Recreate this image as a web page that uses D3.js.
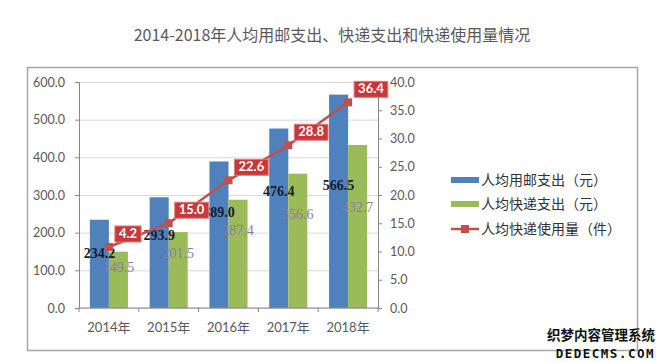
<!DOCTYPE html>
<html>
<head>
<meta charset="utf-8">
<script src="https://cdn.jsdelivr.net/npm/d3@7.9.0/dist/d3.min.js"></script>
<style>
  html, body { margin: 0; padding: 0; background: #fff; }
  svg { display: block; }
</style>
</head>
<body>
<div id="chart"></div>
<script>
// ── Data ─────────────────────────────────────────────────────────────────────
const years = ['2014年', '2015年', '2016年', '2017年', '2018年'];
const postSpend = [234.2, 293.9, 389.0, 476.4, 566.5];     // 人均用邮支出（元）
const expressSpend = [149.5, 201.5, 287.4, 356.6, 432.7];  // 人均快递支出（元）
const expressUse = [4.2, 15.0, 22.6, 28.8, 36.4];          // 人均快递使用量（件）
// the source draws its 2014 point higher than the 4.2 it is labelled with
const expressUsePlotted = [10.8, 15.0, 22.6, 28.8, 36.4];
const leftTicks = [0, 100, 200, 300, 400, 500, 600];
const rightTicks = [0, 5, 10, 15, 20, 25, 30, 35, 40];
const seriesNames = ['人均用邮支出（元）', '人均快递支出（元）', '人均快递使用量（件）'];

// label levels (in left-axis units) where the source placed the bar value labels
const postLabelAt = [146, 194, 255, 310, 327];
const expressLabelAt = [109, 146, 207, 248, 268];

// ── Layout ───────────────────────────────────────────────────────────────────
const width = 660, height = 363;
const plot = { left: 79, right: 378, top: 82, bottom: 308 };
const colors = { post: '#4f81bd', express: '#9bbb59', line: '#c0504d' };
const sans = 'Lato, "Noto Sans CJK SC", sans-serif';
const cjk = '"Noto Sans CJK SC", sans-serif';
const serif = '"Liberation Serif", "Times New Roman", serif';

const svg = d3.select('#chart').append('svg')
  .attr('width', width).attr('height', height);

// title
svg.append('text')
  .attr('x', 332).attr('y', 41)
  .attr('text-anchor', 'middle')
  .style('font-family', cjk).style('font-size', '16px').attr('fill', '#595959')
  .text('2014-2018年人均用邮支出、快递支出和快递使用量情况');

// chart frame
svg.append('rect')
  .attr('x', 27.5).attr('y', 67.5).attr('width', 610).attr('height', 283)
  .attr('fill', 'none').attr('stroke', '#a6a6a6').attr('stroke-width', 1.5);

// ── Scales ───────────────────────────────────────────────────────────────────
const x = d3.scaleBand().domain(years).range([plot.left, plot.right]);
const xSub = d3.scaleBand().domain(['post', 'express'])
  .range([0, x.bandwidth()]).paddingOuter(0.57);
const yL = d3.scaleLinear().domain([0, 600]).range([plot.bottom, plot.top]);
const yR = d3.scaleLinear().domain([0, 40]).range([plot.bottom, plot.top]);

// gridlines
svg.append('g')
  .attr('transform', `translate(${plot.left},0)`)
  .call(d3.axisLeft(yL).tickValues(leftTicks).tickFormat('').tickSize(-(plot.right - plot.left)))
  .call((g) => g.select('.domain').remove())
  .call((g) => g.selectAll('line').attr('stroke', '#d9d9d9'));

// left axis
svg.append('g')
  .attr('transform', `translate(${plot.left},0)`)
  .call(d3.axisLeft(yL).tickValues(leftTicks).tickFormat(d3.format('.1f')).tickSize(4).tickPadding(10))
  .call((g) => g.selectAll('line, path').attr('stroke', '#868686'))
  .call((g) => g.selectAll('text').style('font-family', sans).style('font-size', '12.5px').attr('fill', '#595959'));

// right axis
svg.append('g')
  .attr('transform', `translate(${plot.right},0)`)
  .call(d3.axisRight(yR).tickValues(rightTicks).tickFormat(d3.format('.1f')).tickSize(4).tickPadding(8))
  .call((g) => g.selectAll('line, path').attr('stroke', '#868686'))
  .call((g) => g.selectAll('text').style('font-family', sans).style('font-size', '12.5px').attr('fill', '#595959'));

// bars
const groups = svg.append('g').selectAll('g')
  .data(years)
  .join('g')
  .attr('transform', (d) => `translate(${x(d)},0)`);

groups.append('rect')
  .attr('x', xSub('post')).attr('width', xSub.bandwidth())
  .attr('y', (d, i) => yL(postSpend[i]))
  .attr('height', (d, i) => yL(0) - yL(postSpend[i]))
  .attr('fill', colors.post);

groups.append('rect')
  .attr('x', xSub('express')).attr('width', xSub.bandwidth())
  .attr('y', (d, i) => yL(expressSpend[i]))
  .attr('height', (d, i) => yL(0) - yL(expressSpend[i]))
  .attr('fill', colors.express);

// bottom axis (category boundaries as ticks)
const xAxis = svg.append('g').attr('transform', `translate(0,${plot.bottom})`);
xAxis.append('line')
  .attr('x1', plot.left).attr('x2', plot.right)
  .attr('stroke', '#868686');
xAxis.selectAll('.tick')
  .data(years.concat(['end']))
  .join('line')
  .attr('x1', (d, i) => plot.left + i * x.step())
  .attr('x2', (d, i) => plot.left + i * x.step())
  .attr('y1', 0).attr('y2', 4)
  .attr('stroke', '#868686');
xAxis.selectAll('text')
  .data(years)
  .join('text')
  .attr('x', (d) => x(d) + x.bandwidth() / 2)
  .attr('y', 24)
  .attr('text-anchor', 'middle')
  .style('font-family', sans).style('font-size', '13px').attr('fill', '#595959')
  .text((d) => d);

// bar value labels
groups.append('text')
  .attr('x', xSub('post') + xSub.bandwidth() / 2)
  .attr('y', (d, i) => yL(postLabelAt[i]))
  .attr('dy', '0.35em')
  .attr('text-anchor', 'middle')
  .style('font-family', serif).style('font-size', '14px').style('font-weight', 'bold')
  .attr('fill', '#1a1a2a')
  .text((d, i) => postSpend[i].toFixed(1));

groups.append('text')
  .attr('x', xSub('express') + xSub.bandwidth() / 2)
  .attr('y', (d, i) => yL(expressLabelAt[i]))
  .attr('dy', '0.35em')
  .attr('text-anchor', 'middle')
  .style('font-family', serif).style('font-size', '14px')
  .attr('fill', '#8a7aa8')
  .text((d, i) => expressSpend[i].toFixed(1));

// line series
const cx = (d, i) => x(years[i]) + x.bandwidth() / 2;
const line = d3.line().x(cx).y((d) => yR(d));
svg.append('path')
  .datum(expressUsePlotted)
  .attr('d', line)
  .attr('fill', 'none').attr('stroke', colors.line).attr('stroke-width', 2.5);

svg.append('g').selectAll('rect')
  .data(expressUsePlotted)
  .join('rect')
  .attr('x', (d, i) => cx(d, i) - 4).attr('y', (d) => yR(d) - 4)
  .attr('width', 8).attr('height', 8)
  .attr('fill', colors.line);

// line value boxes
const boxes = svg.append('g').selectAll('g')
  .data(expressUsePlotted)
  .join('g')
  .attr('transform', (d, i) => `translate(${cx(d, i) + 6},${yR(d) - 5})`);

boxes.append('text')
  .attr('x', 4).attr('y', -4)
  .style('font-family', sans).style('font-size', '13px').style('font-weight', 'bold')
  .attr('fill', '#fff')
  .text((d, i) => expressUse[i].toFixed(1))
  .each(function () {
    const w = this.getComputedTextLength();
    d3.select(this.parentNode).insert('rect', 'text')
      .attr('x', 0).attr('y', -16).attr('width', w + 8).attr('height', 16)
      .attr('fill', '#c8383a').attr('stroke', '#e07a7a').attr('stroke-width', 1);
  });

// legend
const legend = svg.append('g').attr('transform', 'translate(451,0)');
const legendRows = [180, 204, 229];
legend.append('rect').attr('x', 0).attr('y', legendRows[0] - 3).attr('width', 28).attr('height', 6).attr('fill', colors.post);
legend.append('rect').attr('x', 0).attr('y', legendRows[1] - 3).attr('width', 28).attr('height', 6).attr('fill', colors.express);
legend.append('line').attr('x1', 0).attr('x2', 28).attr('y1', legendRows[2]).attr('y2', legendRows[2])
  .attr('stroke', colors.line).attr('stroke-width', 2.5);
legend.append('rect').attr('x', 10).attr('y', legendRows[2] - 4).attr('width', 8).attr('height', 8).attr('fill', colors.line);
legend.selectAll('text')
  .data(seriesNames)
  .join('text')
  .attr('x', 30).attr('y', (d, i) => legendRows[i])
  .attr('dy', '0.35em')
  .style('font-family', cjk).style('font-size', '14px').attr('fill', '#333')
  .text((d) => d);

// watermark in the corner of the source image
svg.append('text')
  .attr('x', 655).attr('y', 340).attr('text-anchor', 'end')
  .style('font-family', cjk).style('font-size', '13.5px').style('font-weight', 'bold')
  .attr('fill', '#111').text('织梦内容管理系统');
svg.append('text')
  .attr('x', 655).attr('y', 358).attr('text-anchor', 'end')
  .style('font-family', '"DejaVu Sans Mono", monospace').style('font-size', '12.5px').style('font-weight', 'bold')
  .attr('fill', '#111').attr('letter-spacing', '1.5px').text('DEDECMS.COM');
</script>
</body>
</html>
